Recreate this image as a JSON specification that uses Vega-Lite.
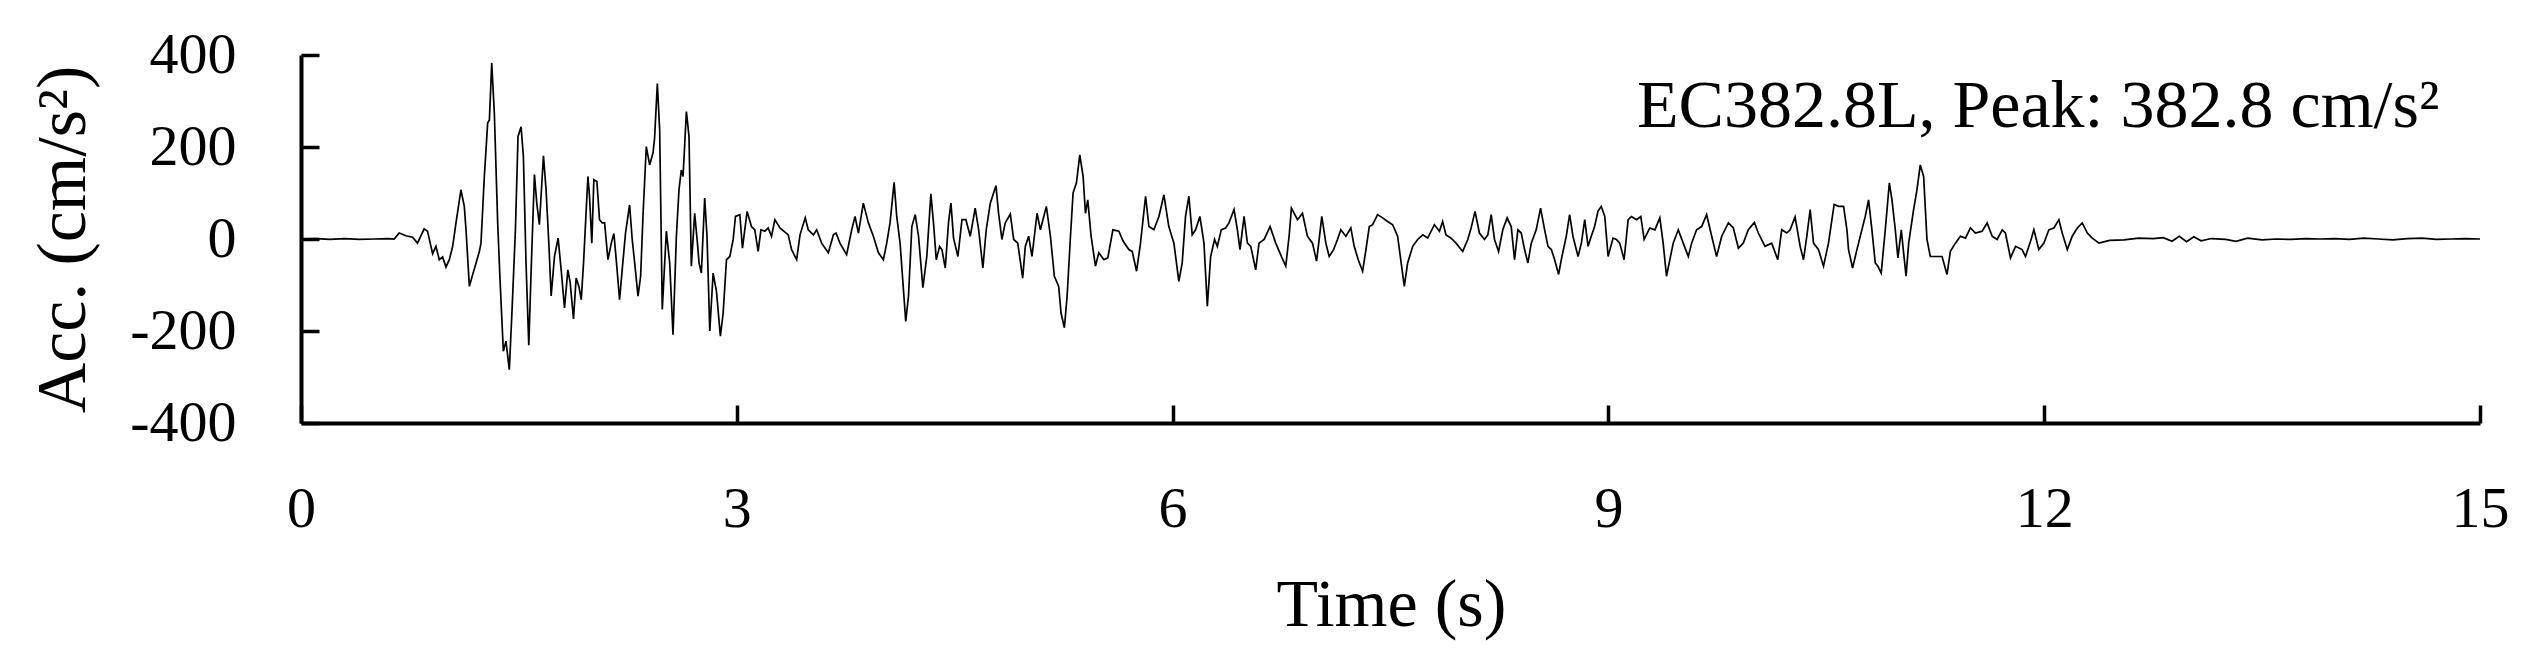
{
  "$schema": "https://vega.github.io/schema/vega-lite/v6.json",
  "width": 2179,
  "height": 368,
  "autosize": {"type": "none"},
  "padding": {"left": 301, "top": 55, "right": 63, "bottom": 241},
  "background": "white",
  "config": {"view": {"stroke": null}},
  "datasets": {
    "acc": [
      {"t":0,"a":0},{"t":0.1,"a":1},{"t":0.2,"a":-1},{"t":0.3,"a":1},{"t":0.4,"a":-1},{"t":0.5,"a":0},{"t":0.6,"a":1},{"t":0.641,"a":0},
      {"t":0.676,"a":13},{"t":0.722,"a":7},{"t":0.768,"a":4},{"t":0.802,"a":-9},{"t":0.848,"a":22},{"t":0.871,"a":17},{"t":0.906,"a":-32},{"t":0.929,"a":-16},{"t":0.952,"a":-45},{"t":0.975,"a":-39},{"t":0.998,"a":-61},{"t":1.021,"a":-45},{"t":1.044,"a":-16},{"t":1.067,"a":35},{"t":1.101,"a":107},{"t":1.124,"a":71},{"t":1.136,"a":20},{"t":1.159,"a":-103},{"t":1.182,"a":-77},{"t":1.205,"a":-52},{"t":1.228,"a":-27},{"t":1.239,"a":-9},{"t":1.262,"a":136},{"t":1.285,"a":252},{"t":1.297,"a":259},{"t":1.313,"a":382.8},{"t":1.331,"a":273},{"t":1.354,"a":35},{"t":1.37,"a":-88},{"t":1.393,"a":-244},{"t":1.411,"a":-222},{"t":1.434,"a":-284},{"t":1.453,"a":-153},{"t":1.476,"a":20},{"t":1.494,"a":223},{"t":1.515,"a":244},{"t":1.531,"a":179},{"t":1.549,"a":-52},{"t":1.568,"a":-231},{"t":1.586,"a":-52},{"t":1.607,"a":140},{"t":1.623,"a":78},{"t":1.641,"a":31},{"t":1.669,"a":181},{"t":1.687,"a":107},{"t":1.706,"a":-9},{"t":1.722,"a":-124},{"t":1.745,"a":-38},{"t":1.77,"a":2},{"t":1.791,"a":-67},{"t":1.814,"a":-150},{"t":1.837,"a":-67},{"t":1.853,"a":-95},{"t":1.876,"a":-174},{"t":1.894,"a":-85},{"t":1.913,"a":-103},{"t":1.929,"a":-132},{"t":1.945,"a":-52},{"t":1.975,"a":136},{"t":1.986,"a":93},{"t":2.002,"a":-9},{"t":2.016,"a":129},{"t":2.037,"a":125},{"t":2.055,"a":42},{"t":2.074,"a":35},{"t":2.09,"a":35},{"t":2.113,"a":-45},{"t":2.136,"a":-9},{"t":2.154,"a":12},{"t":2.17,"a":-45},{"t":2.193,"a":-132},{"t":2.211,"a":-67},{"t":2.234,"a":13},{"t":2.262,"a":74},{"t":2.28,"a":-1},{"t":2.297,"a":-52},{"t":2.32,"a":-124},{"t":2.338,"a":-81},{"t":2.354,"a":49},{"t":2.377,"a":201},{"t":2.4,"a":161},{"t":2.423,"a":187},{"t":2.434,"a":219},{"t":2.453,"a":338},{"t":2.469,"a":237},{"t":2.487,"a":-153},{"t":2.515,"a":17},{"t":2.538,"a":-52},{"t":2.561,"a":-208},{"t":2.584,"a":6},{"t":2.602,"a":107},{"t":2.618,"a":150},{"t":2.63,"a":136},{"t":2.653,"a":277},{"t":2.671,"a":223},{"t":2.687,"a":-59},{"t":2.71,"a":56},{"t":2.729,"a":-9},{"t":2.74,"a":-52},{"t":2.756,"a":-74},{"t":2.779,"a":89},{"t":2.795,"a":6},{"t":2.814,"a":-200},{"t":2.837,"a":-74},{"t":2.86,"a":-114},{"t":2.887,"a":-211},{"t":2.906,"a":-161},{"t":2.929,"a":-45},{"t":2.952,"a":-38},{"t":2.975,"a":-1},{"t":2.991,"a":49},
      {"t":3.021,"a":53},{"t":3.039,"a":-20},{"t":3.071,"a":60},{"t":3.101,"a":27},{"t":3.124,"a":20},{"t":3.147,"a":-27},{"t":3.166,"a":20},{"t":3.193,"a":17},{"t":3.216,"a":24},{"t":3.239,"a":6},{"t":3.262,"a":42},{"t":3.297,"a":24},{"t":3.354,"a":9},{"t":3.377,"a":-23},{"t":3.412,"a":-45},{"t":3.435,"a":9},{"t":3.471,"a":46},{"t":3.492,"a":20},{"t":3.527,"a":9},{"t":3.55,"a":20},{"t":3.584,"a":-9},{"t":3.63,"a":-30},{"t":3.665,"a":9},{"t":3.683,"a":13},{"t":3.71,"a":-9},{"t":3.756,"a":-34},{"t":3.791,"a":20},{"t":3.814,"a":49},{"t":3.837,"a":13},{"t":3.871,"a":78},{"t":3.906,"a":35},{"t":3.94,"a":6},{"t":3.975,"a":-30},{"t":4.009,"a":-45},{"t":4.032,"a":-9},{"t":4.055,"a":35},{"t":4.083,"a":123},{"t":4.101,"a":49},{"t":4.124,"a":-9},{"t":4.163,"a":-179},{"t":4.182,"a":-124},{"t":4.205,"a":27},{"t":4.228,"a":53},{"t":4.251,"a":6},{"t":4.281,"a":-106},{"t":4.308,"a":-38},{"t":4.336,"a":98},{"t":4.354,"a":35},{"t":4.373,"a":-45},{"t":4.396,"a":-16},{"t":4.412,"a":-23},{"t":4.435,"a":-63},{"t":4.458,"a":38},{"t":4.474,"a":78},{"t":4.492,"a":2},{"t":4.522,"a":-38},{"t":4.55,"a":42},{"t":4.577,"a":42},{"t":4.607,"a":6},{"t":4.641,"a":67},{"t":4.665,"a":20},{"t":4.694,"a":-63},{"t":4.717,"a":20},{"t":4.745,"a":78},{"t":4.784,"a":116},{"t":4.802,"a":56},{"t":4.825,"a":-1},{"t":4.848,"a":35},{"t":4.883,"a":54},{"t":4.906,"a":-1},{"t":4.934,"a":-9},{"t":4.968,"a":-85},{"t":4.986,"a":-16},{"t":5.009,"a":6},{"t":5.032,"a":-38},{"t":5.067,"a":56},{"t":5.09,"a":20},{"t":5.131,"a":71},{"t":5.159,"a":6},{"t":5.186,"a":-81},{"t":5.216,"a":-103},{"t":5.232,"a":-161},{"t":5.255,"a":-193},{"t":5.274,"a":-124},{"t":5.297,"a":6},{"t":5.315,"a":100},{"t":5.338,"a":122},{"t":5.361,"a":183},{"t":5.384,"a":136},{"t":5.4,"a":56},{"t":5.416,"a":85},{"t":5.439,"a":6},{"t":5.469,"a":-59},{"t":5.492,"a":-30},{"t":5.527,"a":-45},{"t":5.554,"a":-41},{"t":5.589,"a":20},{"t":5.63,"a":17},{"t":5.66,"a":-5},{"t":5.699,"a":-23},{"t":5.722,"a":-27},{"t":5.752,"a":-70},{"t":5.779,"a":-9},{"t":5.814,"a":93},{"t":5.837,"a":27},{"t":5.871,"a":20},{"t":5.906,"a":49},{"t":5.94,"a":96},
      {"t":5.974,"a":27},{"t":6.009,"a":-9},{"t":6.043,"a":-92},{"t":6.066,"a":-52},{"t":6.089,"a":49},{"t":6.112,"a":93},{"t":6.135,"a":9},{"t":6.158,"a":20},{"t":6.188,"a":49},{"t":6.216,"a":-9},{"t":6.239,"a":-146},{"t":6.262,"a":-38},{"t":6.289,"a":-1},{"t":6.308,"a":-16},{"t":6.335,"a":20},{"t":6.365,"a":24},{"t":6.388,"a":35},{"t":6.423,"a":64},{"t":6.446,"a":20},{"t":6.464,"a":-23},{"t":6.492,"a":49},{"t":6.515,"a":-9},{"t":6.538,"a":-16},{"t":6.572,"a":-67},{"t":6.595,"a":-9},{"t":6.63,"a":-1},{"t":6.671,"a":27},{"t":6.71,"a":-9},{"t":6.749,"a":-38},{"t":6.779,"a":-59},{"t":6.802,"a":6},{"t":6.818,"a":67},{"t":6.86,"a":42},{"t":6.894,"a":56},{"t":6.928,"a":6},{"t":6.963,"a":-9},{"t":6.991,"a":-48},{"t":7.009,"a":-1},{"t":7.027,"a":49},{"t":7.055,"a":-9},{"t":7.078,"a":-38},{"t":7.108,"a":-23},{"t":7.135,"a":-1},{"t":7.158,"a":20},{"t":7.193,"a":6},{"t":7.227,"a":24},{"t":7.25,"a":-16},{"t":7.278,"a":-45},{"t":7.308,"a":-70},{"t":7.331,"a":-23},{"t":7.354,"a":27},{"t":7.377,"a":31},{"t":7.411,"a":53},{"t":7.446,"a":46},{"t":7.48,"a":38},{"t":7.515,"a":31},{"t":7.549,"a":6},{"t":7.595,"a":-103},{"t":7.618,"a":-52},{"t":7.653,"a":-16},{"t":7.687,"a":-1},{"t":7.722,"a":9},{"t":7.756,"a":2},{"t":7.802,"a":31},{"t":7.837,"a":17},{"t":7.859,"a":38},{"t":7.882,"a":9},{"t":7.917,"a":2},{"t":7.951,"a":-9},{"t":7.997,"a":-27},{"t":8.032,"a":-1},{"t":8.055,"a":24},{"t":8.082,"a":60},{"t":8.112,"a":13},{"t":8.147,"a":-1},{"t":8.17,"a":9},{"t":8.193,"a":53},{"t":8.216,"a":-1},{"t":8.244,"a":-27},{"t":8.273,"a":20},{"t":8.303,"a":46},{"t":8.331,"a":27},{"t":8.354,"a":-45},{"t":8.377,"a":20},{"t":8.4,"a":13},{"t":8.423,"a":-23},{"t":8.446,"a":-52},{"t":8.469,"a":-9},{"t":8.503,"a":20},{"t":8.533,"a":67},{"t":8.561,"a":20},{"t":8.584,"a":-16},{"t":8.607,"a":-23},{"t":8.63,"a":-45},{"t":8.657,"a":-77},{"t":8.68,"a":-38},{"t":8.71,"a":6},{"t":8.733,"a":53},{"t":8.756,"a":6},{"t":8.791,"a":-38},{"t":8.814,"a":-9},{"t":8.837,"a":42},{"t":8.86,"a":-16},{"t":8.882,"a":6},{"t":8.905,"a":27},{"t":8.928,"a":60},{"t":8.951,"a":71},
      {"t":8.975,"a":49},{"t":8.998,"a":-38},{"t":9.032,"a":2},{"t":9.055,"a":-1},{"t":9.078,"a":-9},{"t":9.108,"a":-45},{"t":9.136,"a":42},{"t":9.159,"a":49},{"t":9.193,"a":42},{"t":9.223,"a":49},{"t":9.246,"a":-1},{"t":9.285,"a":24},{"t":9.32,"a":20},{"t":9.354,"a":46},{"t":9.377,"a":-9},{"t":9.4,"a":-81},{"t":9.423,"a":-45},{"t":9.446,"a":-9},{"t":9.481,"a":20},{"t":9.515,"a":-9},{"t":9.55,"a":-38},{"t":9.573,"a":-9},{"t":9.607,"a":20},{"t":9.642,"a":27},{"t":9.676,"a":53},{"t":9.711,"a":6},{"t":9.745,"a":-38},{"t":9.78,"a":6},{"t":9.826,"a":35},{"t":9.86,"a":24},{"t":9.895,"a":-20},{"t":9.929,"a":-9},{"t":9.963,"a":20},{"t":10.005,"a":36},{"t":10.032,"a":13},{"t":10.078,"a":-16},{"t":10.124,"a":-9},{"t":10.166,"a":-45},{"t":10.193,"a":20},{"t":10.228,"a":13},{"t":10.251,"a":20},{"t":10.285,"a":48},{"t":10.32,"a":-16},{"t":10.343,"a":-45},{"t":10.366,"a":6},{"t":10.389,"a":64},{"t":10.412,"a":-9},{"t":10.446,"a":-23},{"t":10.481,"a":-59},{"t":10.515,"a":-9},{"t":10.554,"a":75},{"t":10.584,"a":71},{"t":10.619,"a":71},{"t":10.642,"a":20},{"t":10.653,"a":-23},{"t":10.681,"a":-63},{"t":10.711,"a":-23},{"t":10.745,"a":20},{"t":10.768,"a":49},{"t":10.791,"a":85},{"t":10.814,"a":20},{"t":10.837,"a":-52},{"t":10.855,"a":-59},{"t":10.878,"a":-74},{"t":10.906,"a":20},{"t":10.934,"a":122},{"t":10.952,"a":85},{"t":10.975,"a":20},{"t":10.993,"a":-41},{"t":11.016,"a":20},{"t":11.049,"a":-81},{"t":11.067,"a":-9},{"t":11.101,"a":64},{"t":11.124,"a":107},{"t":11.147,"a":161},{"t":11.17,"a":136},{"t":11.193,"a":-1},{"t":11.216,"a":-38},{"t":11.251,"a":-38},{"t":11.297,"a":-38},{"t":11.331,"a":-77},{"t":11.354,"a":-27},{"t":11.389,"a":-9},{"t":11.423,"a":6},{"t":11.458,"a":2},{"t":11.492,"a":24},{"t":11.527,"a":13},{"t":11.573,"a":17},{"t":11.607,"a":35},{"t":11.642,"a":6},{"t":11.676,"a":-1},{"t":11.711,"a":20},{"t":11.733,"a":13},{"t":11.768,"a":-41},{"t":11.803,"a":-16},{"t":11.848,"a":-23},{"t":11.871,"a":-38},{"t":11.906,"a":-5},{"t":11.929,"a":20},{"t":11.963,"a":-23},{"t":11.998,"a":-9},{"t":12.032,"a":20},{"t":12.067,"a":24},{"t":12.101,"a":42},{"t":12.124,"a":13},{"t":12.159,"a":-23},{"t":12.193,"a":6},{"t":12.228,"a":24},{"t":12.262,"a":35},{"t":12.297,"a":13},{"t":12.331,"a":2},{"t":12.377,"a":-9},
      {"t":12.45,"a":-3},{"t":12.55,"a":-2},{"t":12.65,"a":2},{"t":12.75,"a":1},{"t":12.82,"a":3},{"t":12.88,"a":-5},{"t":12.93,"a":6},{"t":12.98,"a":-6},{"t":13.03,"a":5},{"t":13.08,"a":-4},{"t":13.15,"a":1},{"t":13.25,"a":-1},{"t":13.32,"a":-5},{"t":13.4,"a":2},{"t":13.5,"a":-2},{"t":13.6,"a":0},{"t":13.7,"a":-1},{"t":13.8,"a":1},{"t":13.9,"a":0},{"t":14.0,"a":1},{"t":14.1,"a":-1},{"t":14.2,"a":2},{"t":14.3,"a":0},{"t":14.4,"a":-2},{"t":14.5,"a":1},{"t":14.6,"a":2},{"t":14.7,"a":-1},{"t":14.8,"a":0},{"t":14.9,"a":1},{"t":15.0,"a":0}
    ],
    "note": [{"t": 14.72, "a": 243, "label": "EC382.8L, Peak: 382.8 cm/s²"}]
  },
  "layer": [
    {
      "data": {"name": "acc"},
      "mark": {"type": "line", "color": "black", "strokeWidth": 1.7, "interpolate": "linear"},
      "encoding": {
        "x": {
          "field": "t", "type": "quantitative",
          "scale": {"domain": [0, 15], "nice": false, "zero": false},
          "axis": {
            "values": [0, 3, 6, 9, 12, 15],
            "format": "d",
            "grid": false,
            "domainColor": "black", "domainWidth": 4,
            "tickColor": "black", "tickWidth": 3.5, "tickSize": -18,
            "labelFont": "Liberation Serif", "labelFontSize": 58, "labelColor": "black",
            "labelBaseline": "alphabetic", "labelPadding": 121, "labelFlush": false,
            "title": "Time (s)", "titleFont": "Liberation Serif", "titleFontSize": 68,
            "titleFontWeight": "normal", "titleColor": "black",
            "titleBaseline": "alphabetic", "titleX": 1090, "titleY": 202, "titleAlign": "center"
          }
        },
        "y": {
          "field": "a", "type": "quantitative",
          "scale": {"domain": [-400, 400], "nice": false},
          "axis": {
            "values": [-400, -200, 0, 200, 400],
            "grid": false,
            "domainColor": "black", "domainWidth": 4,
            "tickColor": "black", "tickWidth": 3.5, "tickSize": -18,
            "labelFont": "Liberation Serif", "labelFontSize": 58, "labelColor": "black",
            "labelPadding": 83,
            "labelExpr": "(datum.value < 0 ? '-' : '') + abs(datum.value)",
            "title": "Acc. (cm/s²)", "titleFont": "Liberation Serif", "titleFontSize": 70,
            "titleFontWeight": "normal", "titleColor": "black",
            "titleAngle": -90, "titleBaseline": "alphabetic", "titleAlign": "center",
            "titleX": -217, "titleY": 184
          }
        }
      }
    },
    {
      "data": {"name": "note"},
      "mark": {"type": "text", "font": "Liberation Serif", "fontSize": 68, "align": "right", "baseline": "alphabetic", "color": "black"},
      "encoding": {
        "x": {"field": "t", "type": "quantitative"},
        "y": {"field": "a", "type": "quantitative"},
        "text": {"field": "label"}
      }
    }
  ]
}
